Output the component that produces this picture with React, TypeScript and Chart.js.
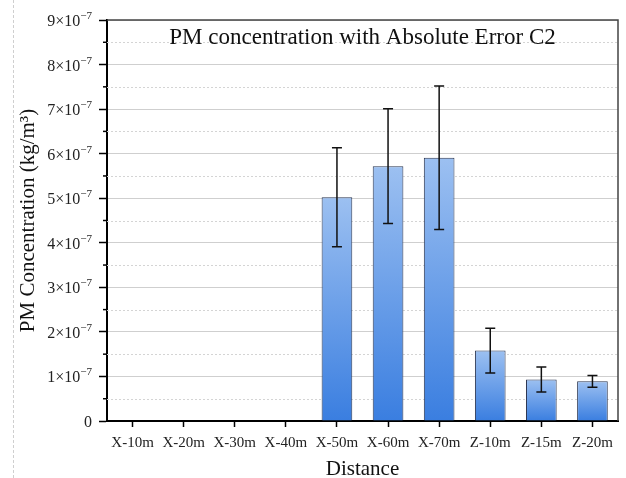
import React, { useEffect, useRef } from 'react';
import { Chart, registerables } from 'chart.js';

Chart.register(...registerables);

const categories = ['X-10m', 'X-20m', 'X-30m', 'X-40m', 'X-50m', 'X-60m', 'X-70m', 'Z-10m', 'Z-15m', 'Z-20m'];
const values = [0, 0, 0, 0, 5.02e-7, 5.72e-7, 5.91e-7, 1.58e-7, 0.93e-7, 0.89e-7];
const errors = [0, 0, 0, 0, 1.11e-7, 1.29e-7, 1.61e-7, 0.5e-7, 0.28e-7, 0.13e-7];
const yTickMantissas = ['0', '1', '2', '3', '4', '5', '6', '7', '8', '9'];
const yTickExponent = '−7';
const chartTitle = 'PM concentration with Absolute Error C2';
const xTitle = 'Distance';
const yTitle = 'PM Concentration (kg/m³)';
const yMax = 9e-7;
const yMajor = 1e-7;
const yStep = 0.5e-7;

const FONT = '"Liberation Serif", "Times New Roman", serif';

export default function App() {
  const ref = useRef<HTMLCanvasElement>(null);

  useEffect(() => {
    const canvas = ref.current;
    if (!canvas) return;

    const decor = {
      id: 'decor',
      beforeDatasetsDraw(chart: any) {
        const { ctx, chartArea, scales } = chart;
        const y = scales.y;
        ctx.save();
        ctx.strokeStyle = '#d4d4d4';
        ctx.lineWidth = 1;
        ctx.setLineDash([2, 2]);
        for (let k = 1; k < 18; k += 2) {
          const py = Math.round(y.getPixelForValue(k * yStep)) + 0.5;
          ctx.beginPath();
          ctx.moveTo(chartArea.left, py);
          ctx.lineTo(chartArea.right, py);
          ctx.stroke();
        }
        ctx.setLineDash([]);
        ctx.strokeStyle = '#000';
        ctx.lineWidth = 1.5;
        for (let k = 1; k < 18; k += 2) {
          const py = y.getPixelForValue(k * yStep);
          ctx.beginPath();
          ctx.moveTo(chartArea.left - 4, py);
          ctx.lineTo(chartArea.left, py);
          ctx.stroke();
        }
        ctx.restore();
      },
      afterDatasetsDraw(chart: any) {
        const { ctx, scales } = chart;
        const meta = chart.getDatasetMeta(0);
        ctx.save();
        ctx.strokeStyle = '#111';
        ctx.lineWidth = 1.5;
        meta.data.forEach((bar: any, i: number) => {
          const e = errors[i];
          if (!e) return;
          const x = bar.x;
          const yTop = scales.y.getPixelForValue(values[i] + e);
          const yBot = scales.y.getPixelForValue(values[i] - e);
          ctx.beginPath();
          ctx.moveTo(x, yTop);
          ctx.lineTo(x, yBot);
          ctx.moveTo(x - 5, yTop);
          ctx.lineTo(x + 5, yTop);
          ctx.moveTo(x - 5, yBot);
          ctx.lineTo(x + 5, yBot);
          ctx.stroke();
        });
        ctx.restore();
      },
      afterDraw(chart: any) {
        const { ctx, chartArea, scales } = chart;
        ctx.save();
        ctx.strokeStyle = '#444';
        ctx.lineWidth = 1.5;
        ctx.beginPath();
        ctx.moveTo(chartArea.left, chartArea.top);
        ctx.lineTo(chartArea.right, chartArea.top);
        ctx.lineTo(chartArea.right, chartArea.bottom);
        ctx.stroke();

        // y tick labels with superscript exponent
        ctx.fillStyle = '#222';
        ctx.textAlign = 'right';
        ctx.textBaseline = 'alphabetic';
        const xr = chartArea.left - 15;
        yTickMantissas.forEach((m, k) => {
          const py = scales.y.getPixelForValue(k * yMajor);
          if (k === 0) {
            ctx.font = `16px ${FONT}`;
            ctx.fillText(m, xr, py + 6);
            return;
          }
          ctx.font = `11px ${FONT}`;
          const sw = ctx.measureText(yTickExponent).width;
          ctx.fillText(yTickExponent, xr, py - 1);
          ctx.font = `16px ${FONT}`;
          ctx.fillText(`${m}×10`, xr - sw, py + 6);
        });

        ctx.fillStyle = '#111';
        ctx.font = `23px ${FONT}`;
        ctx.textAlign = 'center';
        ctx.fillText(chartTitle, (chartArea.left + chartArea.right) / 2, chartArea.top + 24);
        ctx.restore();
      },
    };

    const chart = new Chart(canvas, {
      type: 'bar',
      data: {
        labels: categories,
        datasets: [
          {
            data: values,
            backgroundColor: (c: any) => {
              const ch = c.chart;
              const { ctx, chartArea, scales } = ch;
              if (!chartArea || !scales?.y || c.type !== 'data') return '#6a9fe8';
              const v = values[c.dataIndex];
              const y0 = scales.y.getPixelForValue(0);
              const y1 = scales.y.getPixelForValue(v);
              if (y0 - y1 < 1) return '#3a7fdf';
              const g = ctx.createLinearGradient(0, y1, 0, y0);
              g.addColorStop(0, '#9cc0f1');
              g.addColorStop(1, '#3a7ee0');
              return g;
            },
            borderColor: '#2a3550',
            borderWidth: 1,
            barPercentage: 0.6,
            categoryPercentage: 1,
          },
        ],
      },
      options: {
        animation: false,
        responsive: false,
        layout: { padding: { top: 20, right: 8, left: 0, bottom: 0 } },
        plugins: { legend: { display: false }, tooltip: { enabled: false }, title: { display: false } },
        scales: {
          x: {
            grid: { drawOnChartArea: false, offset: false, tickLength: 6, tickColor: '#000', tickWidth: 1.5 },
            border: { color: '#000', width: 2 },
            ticks: { font: { family: FONT, size: 15 }, color: '#222', padding: 7, maxRotation: 0, autoSkip: false },
            title: { display: true, text: xTitle, font: { family: FONT, size: 21, lineHeight: 1 }, color: '#111', padding: { top: 0, bottom: -2 } },
            afterFit: (s: any) => {
              s.height = 57;
            },
          },
          y: {
            min: 0,
            max: yMax,
            ticks: {
              stepSize: yMajor,
              font: { family: FONT, size: 15 },
              color: 'rgba(0,0,0,0)',
              padding: 9,
            },
            grid: {
              color: '#cfcfcf',
              tickColor: '#000',
              tickLength: 8,
              tickWidth: 1.5,
            },
            border: { color: '#000', width: 2 },
            title: { display: true, text: yTitle, font: { family: FONT, size: 21, lineHeight: 1 }, color: '#111', padding: { top: 18, bottom: 0 } },
            afterFit: (s: any) => {
              s.width = 107;
            },
          },
        },
      },
      plugins: [decor],
    } as any);

    return () => chart.destroy();
  }, []);

  return (
    <div style={{ position: 'absolute', left: 0, top: 0, width: 626, height: 478, background: '#fff' }}>
      <div style={{ position: 'absolute', left: 13, top: 0, height: 478, borderLeft: '1px dashed #cfcfcf' }} />
      <canvas ref={ref} width={626} height={478} style={{ position: 'absolute', left: 0, top: 0, width: 626, height: 478 }} />
    </div>
  );
}
